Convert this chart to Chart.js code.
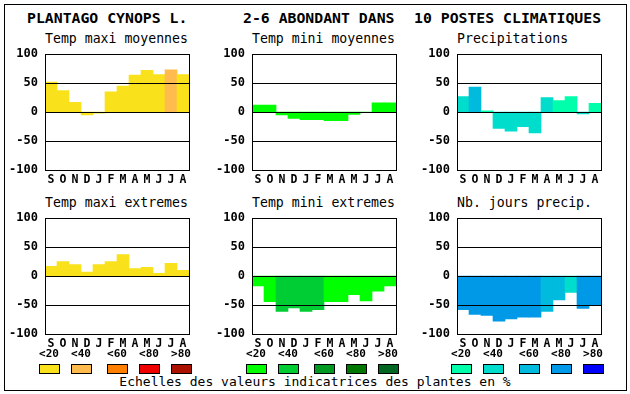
<!DOCTYPE html>
<html>
<head>
<meta charset="utf-8">
<script src="https://cdn.jsdelivr.net/npm/chart.js@4/dist/chart.umd.min.js"></script>
<style>
  html,body{margin:0;padding:0;background:#fff;}
  body{width:630px;height:394px;position:relative;overflow:hidden;font-family:'DejaVu Sans Mono',monospace;color:#000;}
  .abs{position:absolute;white-space:pre;}
  #frame{position:absolute;left:4px;top:4px;width:623px;height:387px;border:1px solid #000;box-sizing:border-box;}
  .main{font-weight:bold;font-size:14.8px;line-height:16px;top:10px;}
  .ptitle{font-size:13.2px;line-height:16px;text-align:left;}
  .lg{font-weight:bold;font-size:11px;line-height:14px;text-align:center;width:30px;top:347px;}
  .box{position:absolute;top:364px;width:21px;height:10px;border:1px solid #000;box-sizing:border-box;}
  canvas{position:absolute;}
</style>
</head>
<body>
<div id="frame"></div>
<div class="abs main" style="left:27px">PLANTAGO CYNOPS L.</div>
<div class="abs main" style="left:243px">2-6 ABONDANT DANS</div>
<div class="abs main" style="left:414px">10 POSTES CLIMATIQUES</div>
<div id="root"></div>
<div class="abs" style="left:0;width:630px;text-align:center;top:375px;font-size:13px;line-height:14px;">Echelles des valeurs indicatrices des plantes en %</div>
<script>
// ---- data ----
const months = ['S','O','N','D','J','F','M','A','M','J','J','A'];
const yTicks = [-100, -50, 0, 50, 100];
const legendLabels = ['<20','<40','<60','<80','>80'];

const tempColors   = ['#F9E11B','#FFBB4D','#FF7F00','#EE0000','#AA1100'];
const greenColors  = ['#00FF00','#00CC33','#009922','#007700','#006622'];
const blueColors   = ['#00FFAA','#00DDCC','#00BBDD','#0099E8','#0000FF'];

const tmaxMoy     = [52, 37, 17, -5, -2, 35, 45, 64, 72, 65, 73, 65];
const tmaxMoyCls  = [0, 0, 0, 0, 0, 0, 0, 0, 0, 0, 1, 0];
const tminMoy     = [12, 12, -5, -11, -13, -13, -15, -15, -4, 0, 16, 16];
const tminMoyCls  = [0, 0, 0, 0, 0, 0, 0, 0, 0, 0, 0, 0];
const precip      = [27, 43, 2, -28, -33, -25, -36, 25, 20, 27, -3, 15];
const precipCls   = [1, 2, 0, 1, 1, 1, 1, 1, 0, 0, 1, 0];
const tmaxExt     = [17, 25, 20, 7, 20, 25, 37, 13, 15, 5, 22, 10];
const tmaxExtCls  = [0, 0, 0, 0, 0, 0, 0, 0, 0, 0, 0, 0];
const tminExt     = [-17, -44, -61, -55, -61, -58, -44, -44, -32, -43, -26, -17];
const tminExtCls  = [0, 0, 1, 1, 1, 1, 0, 0, 0, 0, 0, 0];
const nbJours     = [-58, -66, -68, -78, -74, -71, -71, -61, -41, -28, -56, -50];
const nbJoursCls  = [3, 3, 3, 3, 3, 3, 3, 2, 2, 1, 3, 3];

const panels = [
  {title:'Temp maxi moyennes', data:tmaxMoy, cls:tmaxMoyCls, pal:tempColors, left:45, top:50, ttop:31},
  {title:'Temp mini moyennes', data:tminMoy, cls:tminMoyCls, pal:greenColors, left:252, top:50, ttop:31},
  {title:'Precipitations', data:precip, cls:precipCls, pal:blueColors, left:457, top:50, ttop:31},
  {title:'Temp maxi extremes', data:tmaxExt, cls:tmaxExtCls, pal:tempColors, left:45, top:214, ttop:195},
  {title:'Temp mini extremes', data:tminExt, cls:tminExtCls, pal:greenColors, left:252, top:214, ttop:195},
  {title:'Nb. jours precip.', data:nbJours, cls:nbJoursCls, pal:blueColors, left:457, top:214, ttop:195}
];
const legendOffsets = [0, 32, 68, 100, 132];

// ---- drawing ----
const root = document.getElementById('root');
const frameLines = {
  id:'frameLines',
  afterDatasetsDraw(chart){
    const {ctx, chartArea:a, scales:{y}} = chart;
    ctx.save();
    ctx.strokeStyle = '#000';
    ctx.lineWidth = 1;
    ctx.beginPath();
    yTicks.forEach(v => {
      const py = Math.round(y.getPixelForValue(v)) + 0.5;
      ctx.moveTo(a.left, py); ctx.lineTo(a.right + 1, py);
    });
    const l = Math.round(a.left) + 0.5, r = Math.round(a.right) + 0.5;
    const t = Math.round(y.getPixelForValue(100)) + 0.5, b = Math.round(y.getPixelForValue(-100)) + 0.5;
    ctx.moveTo(l, t); ctx.lineTo(l, b);
    ctx.moveTo(r, t); ctx.lineTo(r, b);
    ctx.stroke();
    ctx.restore();
  }
};

const PADL = 44, PADT = 10, PADR = 4, XH = 20;
panels.forEach(p => {
  const t = document.createElement('div');
  t.className = 'abs ptitle';
  t.style.left = p.left + 'px';
  t.style.top = p.ttop + 'px';
  t.textContent = p.title;
  root.appendChild(t);

  const c = document.createElement('canvas');
  c.width = PADL + 144 + PADR;
  c.height = PADT + 120 + XH;
  c.style.left = (p.left - PADL) + 'px';
  c.style.top = (p.top - PADT) + 'px';
  root.appendChild(c);

  new Chart(c, {
    type:'bar',
    data:{
      labels: months,
      datasets:[{
        data: p.data,
        backgroundColor: p.cls.map(k => p.pal[k]),
        borderWidth: 0,
        barPercentage: 1,
        categoryPercentage: 1
      }]
    },
    options:{
      responsive:false,
      animation:false,
      devicePixelRatio:1,
      layout:{padding:{top:PADT, right:PADR, left:0, bottom:0}},
      plugins:{legend:{display:false}, tooltip:{enabled:false}},
      scales:{
        x:{
          grid:{display:false, drawTicks:false},
          border:{display:false},
          ticks:{color:'#000', font:{family:'DejaVu Sans Mono', weight:'bold', size:11.5}, padding:3, maxRotation:0, autoSkip:false},
          afterFit(s){ s.height = XH; }
        },
        y:{
          min:-100, max:100,
          afterBuildTicks(s){ s.ticks = yTicks.map(v => ({value:v})); },
          grid:{display:false, drawTicks:false},
          border:{display:false},
          ticks:{color:'#000', font:{family:'DejaVu Sans Mono', weight:'bold', size:12}, padding:7},
          afterFit(s){ s.width = PADL; }
        }
      }
    },
    plugins:[frameLines]
  });

  if (p.top > 100) {
    legendOffsets.forEach((off, i) => {
      const x0 = p.left - 6 + off;
      const lab = document.createElement('div');
      lab.className = 'abs lg';
      lab.style.left = (x0 + 10 - 15) + 'px';
      lab.textContent = legendLabels[i];
      root.appendChild(lab);
      const b = document.createElement('div');
      b.className = 'box';
      b.style.left = x0 + 'px';
      b.style.background = p.pal[i];
      root.appendChild(b);
    });
  }
});
</script>
</body>
</html>
